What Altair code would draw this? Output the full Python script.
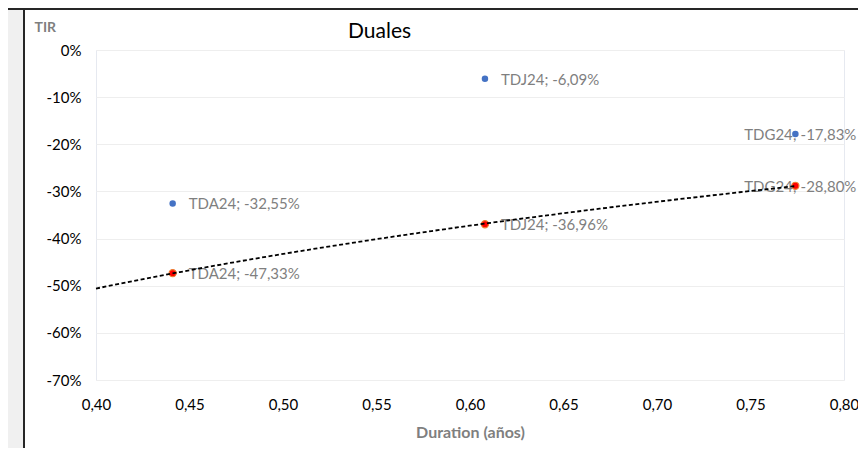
import altair as alt
import pandas as pd

# ---- data ----
bonos = ["TDA24", "TDJ24", "TDG24"]
duration = [0.441, 0.608, 0.774]
tir_azul = [-32.55, -6.09, -17.83]   # %
tir_rojo = [-47.33, -36.96, -28.80]  # %
x_ticks = [0.40, 0.45, 0.50, 0.55, 0.60, 0.65, 0.70, 0.75, 0.80]
y_ticks = [0.0, -0.1, -0.2, -0.3, -0.4, -0.5, -0.6, -0.7]
titulo = "Duales"


def etiqueta(b, v):
    return f"{b}; {v:.2f}%".replace(".", ",")


rows = []
for b, d, v in zip(bonos, duration, tir_azul):
    rows.append({"bono": b, "dur": d, "tir": v / 100, "serie": "azul", "label": etiqueta(b, v)})
for b, d, v in zip(bonos, duration, tir_rojo):
    rows.append({"bono": b, "dur": d, "tir": v / 100, "serie": "rojo", "label": etiqueta(b, v)})
df = pd.DataFrame(rows)

FONT = "Lato"

xs = alt.Scale(domain=[0.40, 0.80], nice=False, zero=False)
ys = alt.Scale(domain=[-0.70, 0.0], nice=False, zero=False)

x_enc = alt.X(
    "dur:Q", scale=xs,
    axis=alt.Axis(
        values=x_ticks, grid=False, domain=False, ticks=False, labelFlush=False,
        labelExpr="replace(format(datum.value, '.2f'), '.', ',')",
        labelFontSize=15, labelColor="#000000", labelPadding=17,
        title="Duration (años)", titleFontSize=16, titleFontWeight="bold",
        titleColor="#7f7f7f", titlePadding=12,
    ),
)
y_enc = alt.Y(
    "tir:Q", scale=ys,
    axis=alt.Axis(
        values=y_ticks, grid=True, gridColor="#eeeeee", domain=False, ticks=False,
        labelFlush=False,
        labelExpr="round(datum.value * 100) + '%'",
        labelFontSize=15, labelColor="#000000", labelPadding=15,
        title="TIR", titleAngle=0, titleAlign="left", titleBaseline="middle",
        titleX=-62, titleY=-23, titleFontSize=14, titleFontWeight="bold",
        titleColor="#7f7f7f",
    ),
)

base = alt.Chart(df)

labels_main = base.transform_filter("datum.bono != 'TDG24'").mark_text(
    align="left", baseline="middle", dx=16, dy=1, fontSize=15, color="#7f7f7f", font=FONT
).encode(x=x_enc, y=y_enc, text="label:N")

labels_edge = base.transform_filter("datum.bono == 'TDG24'").mark_text(
    align="right", baseline="middle", dx=61, dy=1, fontSize=15, color="#7f7f7f", font=FONT
).encode(x=x_enc, y=y_enc, text="label:N")

pts_azul = base.transform_filter("datum.serie == 'azul'").mark_point(
    filled=True, shape="circle", size=42, color="#4472C4", opacity=1
).encode(x=x_enc, y=y_enc)

pts_rojo = base.transform_filter("datum.serie == 'rojo'").mark_point(
    filled=True, shape="circle", size=50, fill="#FF0000", stroke="#ED7D31",
    strokeWidth=1.2, opacity=1
).encode(x=x_enc, y=y_enc)

trend = base.transform_filter("datum.serie == 'rojo'").transform_regression(
    "dur", "tir", method="log", extent=[0.40, 0.774]
).mark_line(color="#000000", strokeWidth=1.8, strokeDash=[4, 2.5]).encode(
    x=x_enc, y=y_enc
)

# decorative frame: gray strip on the left, dark border of the chart box, title
deco_df = pd.DataFrame({"k": [0]})
gray_strip = alt.Chart(deco_df).mark_rect(color="#f0f0f0").encode(
    x=alt.value(-88), x2=alt.value(-72), y=alt.value(-42), y2=alt.value(398)
)
left_border = alt.Chart(deco_df).mark_rule(color="#262626", strokeWidth=2).encode(
    x=alt.value(-72), y=alt.value(-42), y2=alt.value(398)
)
top_border = alt.Chart(deco_df).mark_rule(color="#262626", strokeWidth=2).encode(
    x=alt.value(-88), x2=alt.value(762), y=alt.value(-41)
)
title_mark = alt.Chart(deco_df).mark_text(
    align="left", baseline="alphabetic", fontSize=21, color="#000000", font=FONT,
    text=titulo,
).encode(x=alt.value(252), y=alt.value(-12))

chart = alt.layer(
    gray_strip, left_border, top_border, title_mark,
    labels_main, labels_edge, pts_azul, pts_rojo, trend,
).properties(
    width=748,
    height=330,
    autosize=alt.AutoSizeParams(type="none"),
    padding={"left": 88, "top": 42, "right": 14, "bottom": 68},
).configure(
    font=FONT, background="#ffffff"
).configure_view(
    stroke="#e6e9f0", strokeWidth=1
)

chart.save("out.html", embed_options={"renderer": "svg", "actions": False})
